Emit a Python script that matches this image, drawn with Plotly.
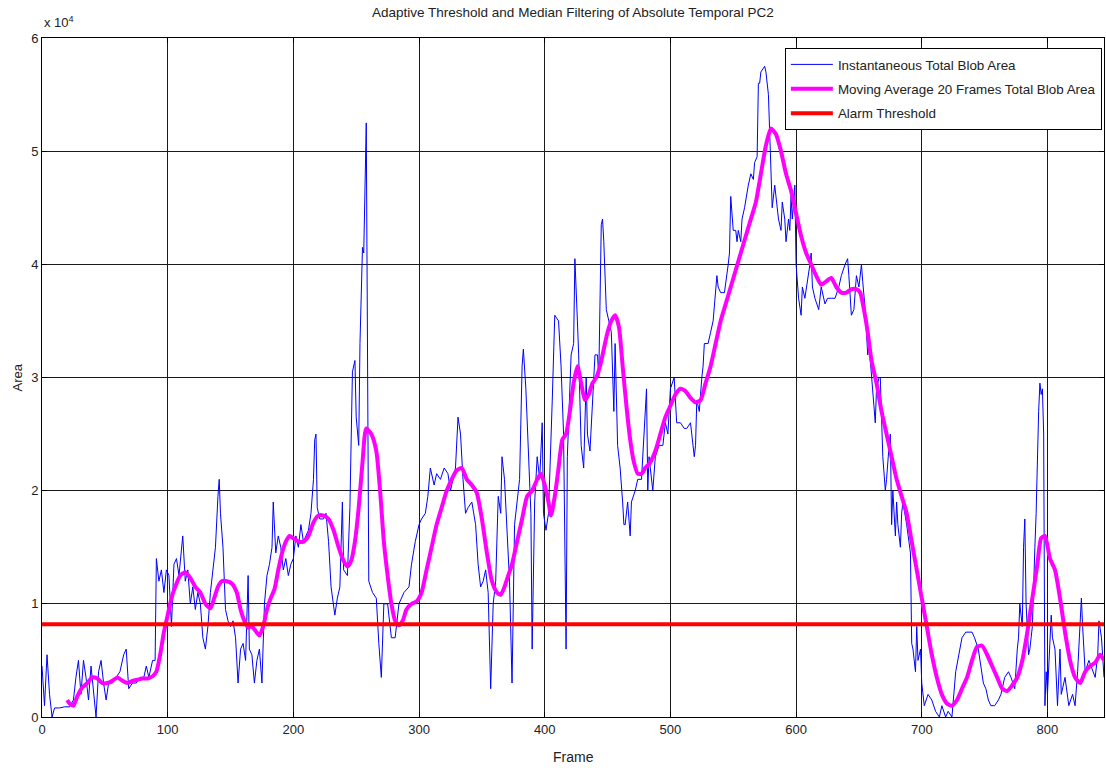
import numpy as np
import plotly.graph_objects as go

# Instantaneous total blob area per frame (values in thousands of pixels)
blue_frames = [0, 2, 4, 6, 8, 10, 14, 18, 22, 25, 27, 29, 31, 33, 35, 37, 39, 41, 43, 45, 47, 49, 51, 53, 56, 59, 62, 65, 67, 69,
               72, 75, 78, 81, 83, 85, 88, 90, 91, 93, 95, 97, 99, 101, 103, 105, 107,
               109, 111, 112, 114, 116, 118, 120, 122, 124, 126, 128, 130, 132, 134, 136, 138, 140, 141, 142, 144, 146, 148,
               150, 152, 154, 156, 158, 160, 162, 164, 165, 167, 169, 171, 173, 175, 177, 179, 181, 183, 184, 186, 188, 190,
               192, 194, 196, 198, 200,
               202, 204, 206, 208, 210, 212, 214, 216, 217, 218, 219, 221, 224, 226, 228, 230, 233, 235, 237, 239, 240, 243,
               245, 247, 249, 250, 252, 253, 255, 256, 258, 259, 260, 263, 266, 268, 270, 272, 275, 278, 281, 284, 288, 292,
               294, 297, 300, 302, 305, 307, 309, 312, 314, 317, 320, 323, 325,
               327, 329, 331, 333, 335, 337, 339, 342, 345, 347, 349, 351, 353, 355, 357, 359, 361, 363, 365, 366, 368, 370,
               372, 374, 376, 378, 380, 382, 383, 385, 387, 389, 390, 392, 394, 396, 398, 399, 401, 403, 406, 408, 411, 413,
               415, 417, 418, 421, 423, 424, 426, 427, 429,
               431, 433, 434, 436, 438, 440, 442, 443, 445, 446, 447, 448, 449, 451, 453, 455, 456, 458, 459, 460, 462, 463,
               464, 466, 468, 469, 472, 474, 477, 479, 481, 482, 483, 484, 486, 488, 491, 494, 496, 498, 500, 503, 505, 508,
               511, 513, 516, 519, 520, 521, 523, 525, 526, 527, 530, 532, 534, 537, 538,
               540, 543, 546, 547, 548, 550, 552, 553, 554, 556, 557, 559, 562, 564, 566, 567, 569, 570, 571, 572, 575, 576,
               578, 579, 580, 581, 583, 584, 586, 588, 589, 591, 592, 594, 595, 596, 597, 599, 600, 602, 604, 605, 607, 611,
               612, 613, 615, 618, 620, 623, 625, 628, 631, 634, 636, 639, 641, 642, 644,
               646, 648, 650, 651, 652, 653, 655, 656, 657, 658, 660, 663, 664, 666, 667, 668, 669, 671, 672, 674, 675, 676,
               677, 679, 680, 681, 683, 684, 685, 688, 691, 692, 693, 695, 696, 697, 699, 700, 702, 705, 708, 711, 714, 716,
               719, 721, 724, 727, 730, 732, 735, 737, 740, 742, 745, 747, 749, 751,
               753, 755, 758, 761, 763, 766, 769, 771, 774, 776, 777, 778, 780, 781, 782, 783, 785, 786, 788, 790, 791, 793,
               794, 795, 796, 797, 798, 799, 800, 803, 804, 806, 808, 810, 811, 814, 817, 820, 822, 824, 827, 828, 830, 833,
               836, 838, 840, 841, 843, 845]
blue_area_k = [4.5, 1.0, 5.5, 2.0, 0.0, 0.8, 0.8, 0.9, 0.9, 1.5, 3.5, 5.0, 2.0, 5.0, 3.5, 1.5, 4.5, 2.0, 0.0, 4.0, 5.0, 3.0, 1.5, 3.0, 3.0, 3.5, 4.0, 5.5, 6.0, 2.5,
               3.0, 3.0, 3.5, 3.5, 4.5, 3.5, 5.0, 5.0, 14.0, 12.0, 13.0, 11.0, 13.0, 12.5, 8.0, 13.5, 14.0,
               12.5, 15.0, 16.0, 12.0, 13.0, 10.0, 11.5, 9.5, 11.0, 10.0, 7.0, 6.0, 8.0, 11.0, 13.0, 15.0, 19.5, 21.0, 18.0, 15.0, 9.5, 8.5,
               8.0, 8.5, 7.0, 3.0, 6.0, 6.5, 5.0, 12.5, 6.0, 5.5, 3.0, 5.0, 6.0, 3.0, 10.0, 12.5, 13.5, 15.0, 19.0, 14.5, 16.0, 15.0,
               13.0, 14.0, 12.5, 13.5, 14.0,
               16.0, 15.0, 17.0, 15.5, 16.0, 16.5, 18.0, 21.0, 24.5, 25.0, 18.5, 17.5, 17.5, 18.0, 15.5, 11.5, 9.0, 10.5, 11.5, 19.0, 13.0, 12.5,
               18.5, 30.5, 31.5, 26.5, 24.0, 33.0, 41.5, 41.0, 52.5, 36.5, 12.0, 11.0, 10.5, 6.5, 3.5, 10.0, 10.0, 7.0, 7.0, 10.0, 11.0, 11.5,
               13.5, 15.5, 17.0, 17.5, 18.0, 19.5, 22.0, 20.5, 21.5, 21.0, 22.0, 21.5, 20.0,
               21.0, 22.0, 26.5, 25.0, 21.0, 18.0, 18.5, 19.0, 17.0, 13.5, 11.5, 12.0, 13.0, 11.0, 2.5, 10.0, 12.0, 19.5, 18.0, 23.0, 21.0, 17.0,
               12.0, 3.0, 17.0, 19.0, 21.0, 31.0, 32.5, 29.0, 23.0, 18.0, 6.0, 19.0, 23.0, 21.0, 26.0, 18.0, 16.5, 18.0, 28.0, 35.5, 35.0, 31.0,
               25.0, 6.0, 23.0, 32.0, 33.0, 40.5, 35.0, 32.0, 24.0,
               22.0, 30.0, 25.0, 23.5, 28.0, 32.0, 32.0, 30.0, 43.5, 44.0, 42.0, 39.0, 36.0, 35.0, 34.0, 27.0, 33.0, 24.0, 23.0, 22.0, 19.0, 17.0,
               17.0, 19.0, 16.0, 19.0, 20.0, 21.0, 21.0, 25.0, 29.0, 20.0, 23.0, 22.0, 20.0, 23.0, 24.0, 24.0, 26.0, 25.0, 29.0, 30.0, 26.0, 26.0,
               25.5, 25.5, 26.0, 23.0, 24.0, 28.0, 27.0, 30.0, 31.0, 33.0, 33.0, 34.0, 35.0, 39.0, 38.0,
               37.5, 37.5, 40.0, 41.0, 46.0, 43.0, 43.0, 42.0, 43.0, 42.0, 44.0, 45.0, 47.0, 48.0, 47.5, 49.0, 49.5, 56.0, 56.0, 57.0, 57.5, 57.0,
               55.0, 52.0, 48.0, 45.0, 47.0, 46.0, 44.0, 43.0, 45.5, 44.0, 42.0, 44.0, 43.0, 46.0, 44.0, 47.0, 40.0, 37.0, 35.5, 38.0, 37.0, 40.0,
               41.0, 38.0, 37.0, 36.0, 38.0, 36.5, 37.0, 37.0, 37.0, 38.0, 39.0, 40.0, 40.5, 39.0, 35.5,
               36.0, 39.0, 38.0, 39.0, 40.0, 38.5, 36.0, 34.0, 32.0, 33.0, 30.0, 26.0, 29.0, 30.0, 30.0, 26.0, 23.0, 20.0, 21.0, 24.0, 25.0, 17.0,
               20.0, 16.0, 19.0, 17.0, 15.0, 18.0, 19.0, 17.0, 14.5, 6.5, 6.0, 4.0, 8.0, 5.0, 6.0, 3.0, 1.0, 2.0, 1.5, 0.5, 0.0, 1.0,
               0.0, 0.5, 0.0, 4.0, 6.0, 7.0, 7.5, 7.5, 7.5, 7.0, 6.0, 4.5, 3.0, 2.5,
               1.5, 1.0, 1.0, 1.5, 2.0, 3.5, 4.0, 3.5, 2.5, 6.0, 7.0, 10.0, 8.0, 15.0, 17.5, 10.0, 5.5, 6.0, 8.0, 15.0, 18.0, 27.0,
               29.5, 28.5, 29.0, 25.0, 1.0, 4.0, 2.0, 9.0, 7.0, 6.0, 1.0, 6.0, 2.0, 3.5, 1.0, 2.0, 1.0, 4.0, 10.5, 8.0, 4.0, 5.0,
               4.0, 3.5, 5.5, 8.5, 7.0, 3.5]

# 20-frame moving average of the total blob area (thousands)
avg_frames = [20, 22, 25, 28, 32, 36, 40, 44, 48, 52, 56, 60, 64, 68, 72, 76, 80, 84, 88, 91, 94, 97, 100, 103, 106, 110,
              114, 118, 122, 126, 130, 134, 137, 140, 143, 147, 151, 155, 158, 161, 164, 167, 170, 173, 176, 179, 182, 185,
              188, 191, 194, 197, 200, 204, 208, 212, 216, 220, 224, 228, 232, 236, 240, 243, 246, 249, 252, 255, 258, 262,
              266, 269, 272, 275, 278, 281, 284, 287, 290, 294, 298, 302, 306, 310, 314, 318, 322, 326, 330, 334, 338, 342,
              346, 350, 354, 358, 362, 365, 368, 371, 374, 378, 382, 386, 390, 394, 397, 400, 403, 405, 408, 411, 414, 417,
              420, 423, 426, 429, 432, 435, 438, 441, 444, 447, 450, 453, 456, 459, 462, 465, 468, 471, 474, 477, 480, 484,
              488, 492, 496, 500, 504, 508, 512, 516, 520, 524, 528, 532, 536, 540, 544, 548, 552, 556, 560, 564, 568, 572,
              576, 580, 584, 588, 592, 596, 600, 604, 608, 612, 616, 620, 624, 628, 632, 636, 640, 644, 648, 651, 654, 657,
              660, 664, 668, 672, 676, 680, 684, 688, 692, 696, 700, 704, 708, 712, 716, 720, 724, 728, 732, 736, 740, 744,
              748, 752, 756, 760, 764, 768, 772, 776, 780, 784, 788, 792, 795, 798, 802, 806, 810, 814, 818, 822, 826, 830,
              834, 838, 842, 845]
avg_area_k = [1.5, 1.2, 1.0, 1.8, 2.6, 3.0, 3.5, 3.4, 3.0, 3.0, 3.2, 3.5, 3.2, 3.0, 3.2, 3.3, 3.4, 3.4, 3.6, 4.0, 5.5, 7.5, 9.0, 10.5, 11.5, 12.5,
              12.8, 12.3, 11.5, 11.0, 10.0, 9.6, 10.5, 11.5, 12.0, 12.0, 11.8, 11.0, 9.5, 8.5, 7.9, 8.0, 7.6, 7.2, 8.0, 9.5, 10.5, 11.3,
              13.0, 14.5, 15.5, 16.0, 15.8, 15.5, 15.5, 16.0, 17.2, 17.8, 17.8, 17.5, 16.5, 15.0, 13.8, 13.3, 13.8, 15.5, 18.5, 22.5, 25.5, 25.0,
              23.5, 20.0, 15.5, 12.5, 10.0, 8.5, 8.1, 8.5, 9.5, 10.0, 10.2, 11.0, 13.0, 15.0, 17.0, 18.5, 20.0, 21.0, 21.8, 22.0, 21.0, 20.5,
              19.8, 17.5, 14.5, 12.0, 11.0, 10.8, 11.5, 12.5, 13.5, 15.5, 17.5, 19.5, 20.0, 21.0, 21.5, 20.5, 19.0, 17.8, 19.5, 22.0, 24.5, 25.0,
              27.0, 29.5, 31.0, 29.5, 28.0, 28.5, 29.5, 30.0, 31.0, 32.5, 34.0, 35.0, 35.5, 34.5, 31.0, 27.5, 24.5, 22.5, 21.5, 21.5, 22.0, 22.5,
              23.5, 25.0, 26.5, 27.5, 28.5, 29.0, 28.8, 28.2, 27.8, 28.0, 29.5, 31.0, 33.0, 35.0, 36.5, 38.0, 39.5, 41.0, 42.5, 44.0, 45.5, 48.0,
              50.5, 52.0, 51.5, 50.0, 48.0, 46.5, 44.5, 42.5, 41.0, 40.0, 39.0, 38.2, 38.5, 38.8, 38.0, 37.5, 37.5, 37.8, 37.8, 37.5, 36.0, 34.0,
              31.5, 29.5, 27.0, 25.0, 23.0, 21.0, 19.5, 18.0, 15.5, 13.0, 10.5, 8.0, 5.5, 3.5, 2.0, 1.2, 1.0, 1.5, 2.5, 3.5, 5.0, 6.2,
              6.3, 5.5, 4.5, 3.5, 2.5, 2.3, 2.8, 3.5, 5.0, 7.5, 10.5, 13.5, 15.8, 16.0, 14.0, 13.0, 10.5, 7.5, 5.0, 3.5, 3.0, 4.0,
              4.5, 4.8, 5.5, 5.0]

# Alarm threshold level and horizontal extent
threshold_area = 8200
threshold_frames = [0, 845]

x_ticks = [0, 100, 200, 300, 400, 500, 600, 700, 800]
y_ticks = [0, 10000, 20000, 30000, 40000, 50000, 60000]
y_tick_labels = ["0", "1", "2", "3", "4", "5", "6"]

blue_area = np.array(blue_area_k) * 1000
avg_area = np.array(avg_area_k) * 1000

FONT = "Liberation Sans Narrow, Liberation Sans, Arial, sans-serif"
TEXT = "#222222"

fig = go.Figure()
fig.add_trace(go.Scatter(
    x=blue_frames, y=blue_area, mode="lines",
    line=dict(color="#0000ff", width=1),
    name="Instantaneous Total Blob Area", legendgroup="inst",
))
fig.add_trace(go.Scatter(
    x=avg_frames, y=avg_area, mode="lines",
    line=dict(color="#ff00ff", width=4, shape="spline", smoothing=0.6),
    name="Moving Average 20 Frames Total Blob Area", legendgroup="avg",
))
fig.add_trace(go.Scatter(
    x=threshold_frames, y=[threshold_area] * len(threshold_frames), mode="lines",
    line=dict(color="#ff0000", width=4),
    name="Alarm Threshold", legendgroup="alarm",
))

axis_common = dict(
    showline=True, linecolor="#000000", linewidth=1, mirror="ticks",
    ticks="inside", ticklen=5, tickcolor="#000000",
    showgrid=True, gridcolor="#1a1a1a", gridwidth=1,
    zeroline=False,
    tickfont=dict(family=FONT, size=13, color=TEXT),
)

fig.update_xaxes(range=[0, 845], tickvals=x_ticks, **axis_common)
fig.update_yaxes(range=[0, 60000], tickvals=y_ticks, ticktext=y_tick_labels, **axis_common)

fig.update_layout(
    width=1106, height=768,
    margin=dict(l=42, r=2, t=38, b=51),
    paper_bgcolor="#ffffff", plot_bgcolor="#ffffff",
    font=dict(family=FONT, color=TEXT),
    title=dict(
        text="Adaptive Threshold and Median Filtering of Absolute Temporal PC2",
        x=0.518, xanchor="center", y=0.984, yanchor="middle",
        font=dict(family=FONT, size=13.5, color=TEXT),
    ),
    showlegend=True,
    legend=dict(
        x=0.998, xanchor="right", y=0.985, yanchor="top",
        bgcolor="#ffffff", bordercolor="#000000", borderwidth=1,
        font=dict(family=FONT, size=13.4, color=TEXT),
        itemwidth=42, tracegroupgap=4,
    ),
    annotations=[
        dict(text="x 10<sup>4</sup>", xref="paper", yref="paper", x=0, y=1,
             xanchor="left", yanchor="bottom", yshift=6, showarrow=False,
             font=dict(family=FONT, size=13, color=TEXT)),
        dict(text="Area", xref="paper", yref="paper", x=0, y=0.5,
             xanchor="center", yanchor="middle", xshift=-25,
             textangle=-90, showarrow=False,
             font=dict(family=FONT, size=13, color=TEXT)),
        dict(text="Frame", xref="paper", yref="paper", x=0.5, y=0, yshift=-40,
             xanchor="center", yanchor="middle", showarrow=False,
             font=dict(family=FONT, size=14, color=TEXT)),
    ],
)

fig.write_html("out.html")
